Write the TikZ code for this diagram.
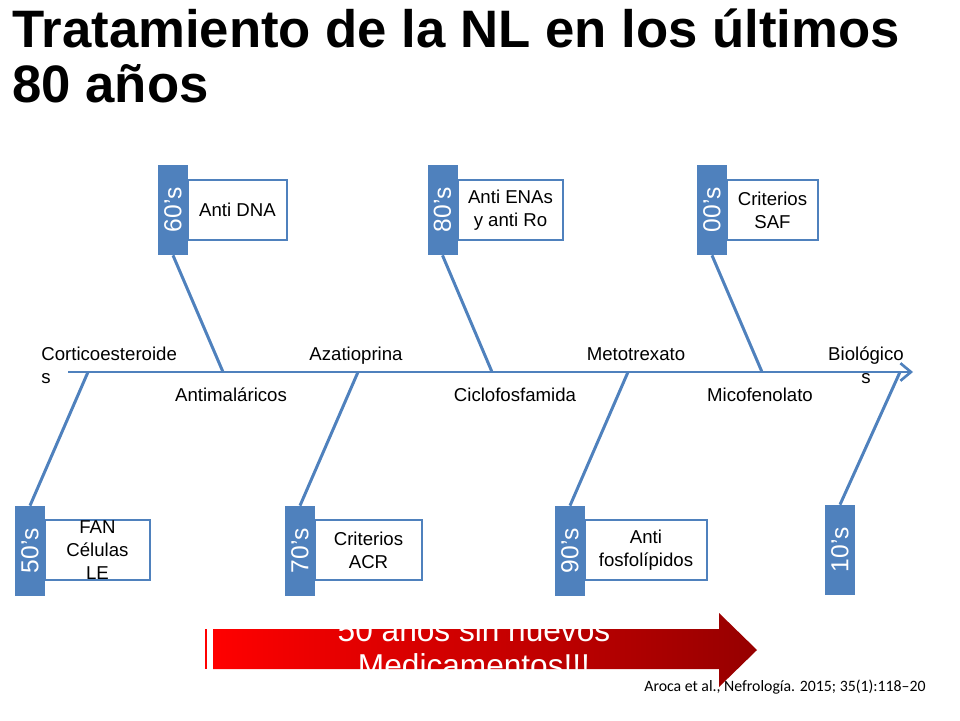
\documentclass[tikz,border=0pt]{standalone}
\usepackage{fontspec}
\setmainfont{Liberation Sans}
\newfontfamily\refsfont{Carlito}
\usetikzlibrary{arrows.meta}
\definecolor{slideblue}{RGB}{79,129,189}
\definecolor{arrowlight}{RGB}{255,0,0}
\definecolor{arrowdark}{RGB}{150,0,0}
\newcommand{\labelsize}{\fontsize{10.6}{13}\selectfont}

\begin{document}
\begin{tikzpicture}[x=0.02cm, y=-0.02cm,
  decade/.style={fill=slideblue, rotate=90, minimum width=1.8cm, minimum height=0.6cm, inner sep=0pt, text=white, font=\fontsize{14}{16}\selectfont},
  finding/.style={draw=slideblue, line width=1.4pt, fill=white, minimum height=1.2cm, inner sep=0pt, align=center, font=\labelsize},
  drug/.style={anchor=base, inner sep=0pt, font=\labelsize},
  bone edge/.style={slideblue, line width=1.7pt}
]
\useasboundingbox (0,0) rectangle (960,720);
% Define the title
\node[anchor=base west, align=left, inner sep=0pt, font=\fontsize{30}{31.2}\selectfont\bfseries] (title) at (12,102) {Tratamiento de la NL en los últimos\\80 años};
% Define the spine points
\coordinate (tail) at (68,372);
\coordinate (head) at (913,372);
\coordinate (j50) at (88,372);
\coordinate (j60) at (223,372);
\coordinate (j70) at (358,372);
\coordinate (j80) at (492,372);
\coordinate (j90) at (628,372);
\coordinate (j00) at (762,372);
\coordinate (j10) at (900,372);
% Define the finding boxes
\node[finding, minimum width=1.98cm] (b60) at (237.5,210) {Anti DNA};
\node[finding, minimum width=2.1cm] (b80) at (510.5,210) {Anti ENAs\\y anti Ro};
\node[finding, minimum width=1.82cm] (b00) at (772.5,210) {Criterios\\SAF};
\node[finding, minimum width=2.1cm] (b50) at (97.5,550) {};
\node[font=\labelsize, align=center, inner sep=0pt] (b50 text) at (b50) {FAN\\Células\\LE};
\node[finding, minimum width=2.14cm] (b70) at (368.5,550) {Criterios\\ACR};
\node[finding, minimum width=2.44cm] (b90) at (646,550) {Anti\\fosfolípidos};
% Define the decade tabs
\node[decade] (t60) at (173,210) {60’s};
\node[decade] (t80) at (442.5,210) {80’s};
\node[decade] (t00) at (712,210) {00’s};
\node[decade] (t50) at (30,551) {50’s};
\node[decade] (t70) at (300,551) {70’s};
\node[decade] (t90) at (570,551) {90’s};
\node[decade] (t10) at (840,550) {10’s};
% Define the edges
\path[bone edge, line width=1.5pt, -{Straight Barb[length=6pt, width=10pt]}] (tail) edge (head);
\path[bone edge] (t60.west) edge (j60);
\path[bone edge] (t80.west) edge (j80);
\path[bone edge] (t00.west) edge (j00);
\path[bone edge] (t50.east) edge (j50);
\path[bone edge] (t70.east) edge (j70);
\path[bone edge] (t90.east) edge (j90);
\path[bone edge] (t10.east) edge (j10);
% Define the drug labels
\node[drug, anchor=base west, align=left] (cortico) at (41,383) {Corticoesteroide\\s};
\node[drug] (antimal) at (231,401) {Antimaláricos};
\node[drug] (azatio) at (356,360) {Azatioprina};
\node[drug] (ciclo) at (515,401) {Ciclofosfamida};
\node[drug] (metotrex) at (636,360) {Metotrexato};
\node[drug] (micofen) at (760,401) {Micofenolato};
\node[drug, align=center] (biolog) at (866,383) {Biológico\\s};
% Define the red arrow
\shade[left color=arrowlight, right color=arrowdark] (213,629) -- (719,629) -- (719,613) -- (757,650) -- (719,687) -- (719,669) -- (213,669) -- cycle;
\fill[arrowlight] (205,629) rectangle (207,669);
\node[anchor=base, align=center, text=white, inner sep=0pt, font=\fontsize{18}{19.8}\selectfont] (gap note) at (474,676) {50 años sin nuevos\\Medicamentos!!!};
\node[anchor=base west, inner sep=0pt, font=\refsfont\fontsize{9}{11}\selectfont] (cite) at (644,691) {Aroca et al., Nefrología. 2015; 35(1):118–20};
\end{tikzpicture}
\end{document}
